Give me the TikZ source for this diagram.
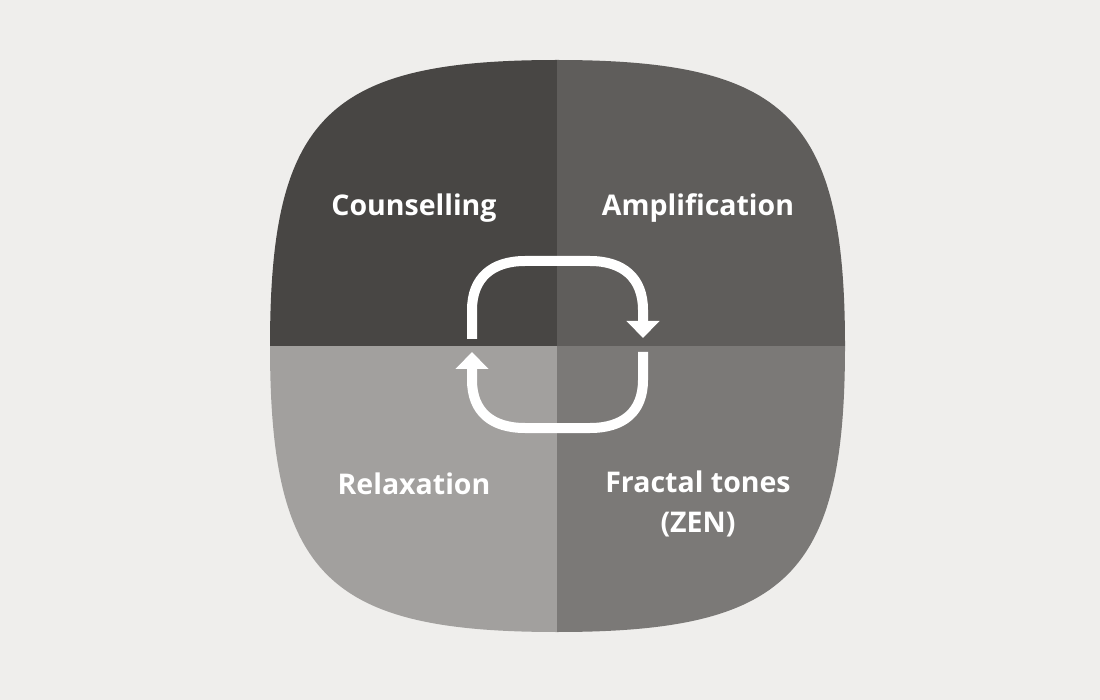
\documentclass[tikz,border=0pt]{standalone}
\usepackage{fontspec}
\setmainfont{Open Sans}
\usetikzlibrary{arrows.meta}
\definecolor{bg}{RGB}{239,238,236}
\definecolor{qtl}{RGB}{72,70,68}
\definecolor{qtr}{RGB}{95,93,91}
\definecolor{qbl}{RGB}{162,160,158}
\definecolor{qbr}{RGB}{123,121,119}
\tikzset{
  lbl/.style={text=white, font=\fontsize{28.5}{40}\selectfont\bfseries, align=center, inner sep=0pt},
  cyc/.style={draw=white, line width=10pt, -{Triangle[width=32pt,length=17pt]}}
}
\begin{document}
\begin{tikzpicture}[x=1pt,y=-1pt]
\fill[bg] (0,0) rectangle (1100,700);
\useasboundingbox (0,0) rectangle (1100,700);
\begin{scope}
\clip (557,60) .. controls (787,60) and (845,117) .. (845,346)
  .. controls (845,575) and (787,632) .. (557,632)
  .. controls (327,632) and (270,575) .. (270,346)
  .. controls (270,117) and (327,60) .. (557,60) -- cycle;
\fill[qtl] (260,50) rectangle (557,346);
\fill[qtr] (557,50) rectangle (860,346);
\fill[qbl] (260,346) rectangle (557,645);
\fill[qbr] (557,346) rectangle (860,645);
\end{scope}
\coordinate (u0) at (472,339);
\coordinate (u1) at (643,338);
\coordinate (l0) at (643,352);
\coordinate (l1) at (472,352);
\draw[cyc] (u0) -- (472,310) .. controls (472,278) and (492,261) .. (525,261) -- (590,261)
  .. controls (623,261) and (643,278) .. (643,310) -- (u1);
\draw[cyc] (l0) -- (643,380) .. controls (643,412) and (623,428) .. (590,428) -- (525,428)
  .. controls (492,428) and (472,412) .. (472,380) -- (l1);
\node[lbl] (c) at (414,208) {Counselling};
\node[lbl] (a) at (698,208) {Amplification};
\node[lbl] (r) at (414,484) {Relaxation};
\node[lbl] (f) at (698,504) {Fractal tones\\(ZEN)};
\end{tikzpicture}
\end{document}
